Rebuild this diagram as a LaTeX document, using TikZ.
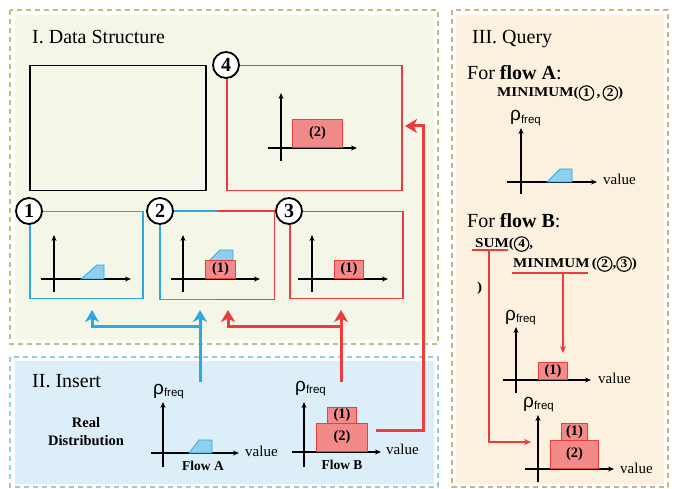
\documentclass[tikz,border=0pt]{standalone}
\usepackage{fontspec}
\setmainfont{Liberation Serif}
\newfontfamily\sansf{Liberation Sans}
\newfontfamily\wideb[FakeStretch=1.12]{Liberation Serif}
\usetikzlibrary{arrows.meta}
\definecolor{cblue}{HTML}{2EA8E0}
\definecolor{cred}{HTML}{EE3B3B}
\definecolor{cpink}{HTML}{F28A8A}
\definecolor{cshade}{HTML}{8ECFF0}
\definecolor{pgreen}{HTML}{F4F7E8}
\definecolor{bgreen}{HTML}{B9C17C}
\definecolor{pblue}{HTML}{DCEEF8}
\definecolor{bblue}{HTML}{8CCFDD}
\definecolor{porange}{HTML}{FCF0DF}
\definecolor{borange}{HTML}{D6B07A}
\newcommand\cnum[1]{\tikz[baseline=(cn.base)]\node[circle,draw,line width=1.1pt,minimum size=14.5pt,inner sep=0pt,font=\fontsize{12}{12}\selectfont\bfseries](cn){#1};}
\newcommand\rhof{{\sansf\fontsize{19}{19}\selectfont ρ}\raisebox{-2.5pt}{\sansf\fontsize{11.5}{11.5}\selectfont freq}}
\begin{document}
\begin{tikzpicture}[x=1pt,y=-1pt,
  axis/.style={line width=1.3pt,-{Stealth[length=6pt,width=5pt]}},
  bigconn/.style={line width=3pt,-{Stealth[length=12pt,width=14pt,inset=3.5pt]}},
  thinconn/.style={cred,line width=1.1pt,-{Stealth[length=7pt,width=6pt]}},
  bar/.style={draw=cred,fill=cpink,line width=1.2pt,inner sep=0,font=\fontsize{14.5}{14.5}\selectfont\bfseries,anchor=south west},
  shade/.style={draw=cblue,fill=cshade,line width=0.8pt},
  txt/.style={inner sep=0,anchor=base west},
  box/.style={line width=1.5pt,inner sep=0,anchor=north west,minimum height=87,minimum width=113},
  bigc/.style={circle,draw,fill=white,line width=1.8pt,minimum size=26pt,inner sep=0,font=\fontsize{20}{20}\selectfont\bfseries},
  panel/.style={line width=1.5pt,dash pattern=on 5pt off 4pt},
  ttl/.style={txt,font=\fontsize{20}{20}\selectfont},
  lab/.style={txt,font=\fontsize{15}{15}\selectfont},
  fl/.style={inner sep=0,anchor=base,font=\fontsize{13.5}{13.5}\selectfont\bfseries},
  fn/.style={txt,font=\fontsize{13.5}{13.5}\selectfont\wideb\bfseries}]
\useasboundingbox (0,0) rectangle (678,489);
% panels
\fill[pgreen] (15,15) rectangle (434,340);
\draw[panel,bgreen] (10,10) rectangle (438,344);
\fill[pblue] (15,361) rectangle (434,484);
\draw[panel,bblue] (10,357) rectangle (438,487);
\fill[porange] (456,15) rectangle (664,484);
\draw[panel,borange] (452,10) rectangle (668,487);
% titles
\node[ttl] (t1) at (32,44) {I. Data Structure};
\node[ttl] (t2) at (32,388) {II. Insert};
\node[ttl] (t3) at (472,44) {III. Query};
% data structure
\node[box,draw=black,minimum width=176,minimum height=125] (b0) at (29,65) {};
\node[box,draw=cred,minimum width=175,minimum height=125] (b4) at (226,65) {};
\node[box,draw=cblue] (b1) at (29,211) {};
\node[box] (b2) at (160,211) {};
\draw[cblue,line width=1.5pt] (b2.north) -- (b2.north west) -- (b2.south west) -- (b2.south);
\draw[cred,line width=1.5pt] (b2.north) -- (b2.north east) -- (b2.south east) -- (b2.south);
\node[box,draw=cred] (b3) at (289,211) {};
% charts in boxes
\draw[axis] (281,161) -- (281,93);
\draw[axis] (268,148) -- (357,148);
\node[bar,minimum width=50,minimum height=28] (r4) at (292,148) {(2)};
\draw[axis] (54,292) -- (54,235);
\draw[axis] (41,279) -- (131,279);
\draw[shade] (81,279) -- (97,265) -- (104,265) -- (104,279) -- cycle;
\draw[axis] (183,292) -- (183,235);
\draw[axis] (171,279) -- (260,279);
\draw[shade] (209,261) -- (220,250) -- (233,250) -- (233,261) -- cycle;
\node[bar,minimum width=30,minimum height=18] (r2) at (205,279) {(1)};
\draw[axis] (312,292) -- (312,235);
\draw[axis] (298,279) -- (388,279);
\node[bar,minimum width=29,minimum height=18] (r3) at (334,279) {(1)};
\node[bigc] (c4) at (b4.north west) {4};
\node[bigc] (c1) at (b1.north west) {1};
\node[bigc] (c2) at (b2.north west) {2};
\node[bigc] (c3) at (b3.north west) {3};
% insert panel
\node[inner sep=0,anchor=base,font=\fontsize{14.5}{14.5}\selectfont\bfseries] (rd1) at (86,427) {Real};
\node[inner sep=0,anchor=base,font=\fontsize{14.5}{14.5}\selectfont\bfseries] (rd2) at (86,445) {Distribution};
\node[txt] (rfa) at (153,394) {\rhof};
\draw[axis] (163,467) -- (163,402);
\draw[axis] (151,453) -- (239,453);
\draw[shade] (189,453) -- (199,440) -- (212,440) -- (212,453) -- cycle;
\node[lab] (vfa) at (245,456) {value};
\node[fl] (fla) at (203,470) {Flow A};
\node[txt] (rfb) at (295,391) {\rhof};
\draw[axis] (304,467) -- (304,402);
\draw[axis] (292,452) -- (381,452);
\node[bar,minimum width=51,minimum height=28] (fb2) at (316,452) {(2)};
\node[bar,minimum width=29,minimum height=16] (fb1) at (327,424) {(1)};
\node[lab] (vfb) at (386,454) {value};
\node[fl] (flb) at (342,469) {Flow B};
% insert connectors
\coordinate (fa) at (200,382);
\coordinate (a2) at (200,310);
\coordinate (ja) at (200,327);
\coordinate (a1) at (92,310);
\coordinate (fb) at (341,382);
\coordinate (a3) at (341,310);
\coordinate (jb) at (341,327);
\coordinate (a2r) at (228,310);
\coordinate (fbo) at (376,430);
\coordinate (rc) at (423,126);
\coordinate (a4) at (405,126);
\draw[bigconn,cblue] (fa) -- (a2);
\draw[bigconn,cblue] (ja) -| (a1);
\draw[bigconn,cred] (fb) -- (a3);
\draw[bigconn,cred] (jb) -| (a2r);
\draw[bigconn,cred] (fbo) -| (rc) -- (a4);
% query panel
\node[ttl] (qa) at (467,80) {For \textbf{flow A}:};
\node[fn] (qa1) at (497,97) {MINIMUM(\cnum{1}\,,\,\cnum{2})};
\node[txt] (rqa) at (510,121) {\rhof};
\draw[axis] (521,194) -- (521,128);
\draw[axis] (507,182) -- (597,182);
\draw[shade] (547,182) -- (560,169) -- (572,169) -- (572,182) -- cycle;
\node[lab] (vqa) at (603,185) {value};
\node[ttl] (qb) at (467,228) {For \textbf{flow B}:};
\node[fn] (qs) at (475,248) {SUM(\cnum{4},};
\node[fn] (qm) at (513,268) {MINIMUM\,(\cnum{2},\cnum{3})};
\node[fn] (qc) at (477,292) {)};
\coordinate (us1) at (472,250);
\coordinate (us2) at (508,250);
\coordinate (usd) at (489,250);
\coordinate (um1) at (512,273);
\coordinate (um2) at (588,273);
\coordinate (umd) at (563,273);
\coordinate (tq1) at (563,353);
\coordinate (tq2) at (531,442);
\draw[cred,line width=1.1pt] (us1) -- (us2);
\draw[cred,line width=1.1pt] (um1) -- (um2);
\node[txt] (rq1) at (505,320) {\rhof};
\draw[axis] (516,393) -- (516,327);
\draw[axis] (503,380) -- (591,380);
\node[bar,minimum width=29,minimum height=17] (q1r) at (538,380) {(1)};
\node[lab] (vq1) at (598,383) {value};
\node[txt] (rq2) at (523,407) {\rhof};
\draw[axis] (538,482) -- (538,415);
\draw[axis] (525,469) -- (614,469);
\node[bar,minimum width=48,minimum height=28] (q2r2) at (550,469) {(2)};
\node[bar,minimum width=26,minimum height=17] (q2r1) at (561,441) {(1)};
\node[lab] (vq2) at (620,473) {value};
\draw[thinconn] (umd) -- (tq1);
\draw[thinconn] (usd) |- (tq2);
\end{tikzpicture}
\end{document}
